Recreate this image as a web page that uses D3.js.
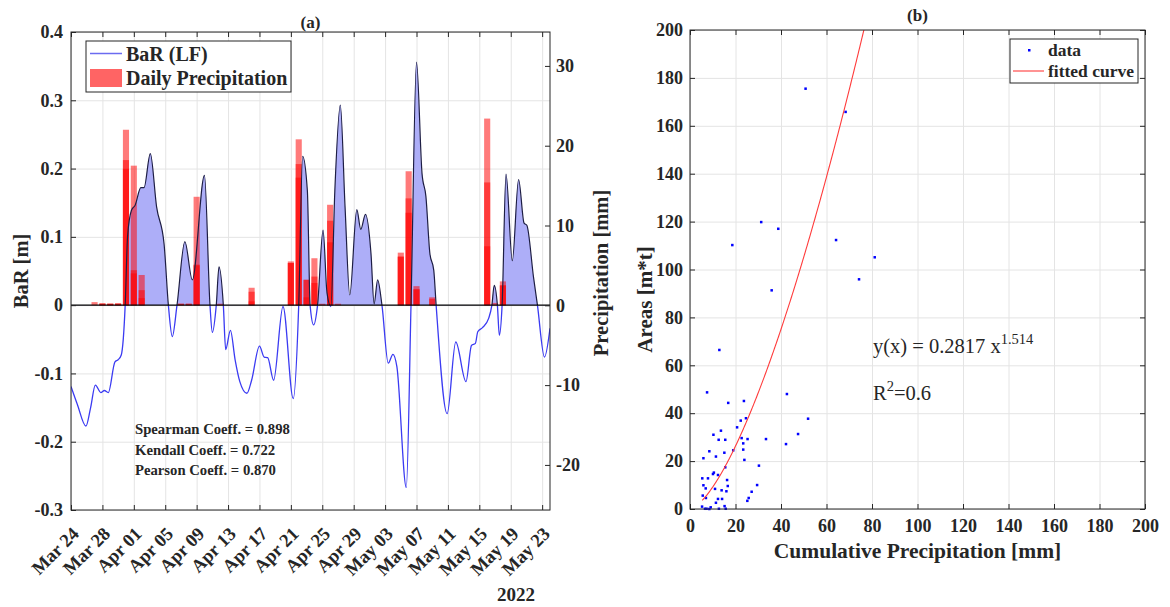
<!DOCTYPE html>
<meta charset="utf-8">
<script src="https://cdn.jsdelivr.net/npm/d3@7"></script>
<style>
body { margin: 0; background: #fff; }
text { font-family: "Liberation Serif", "Times New Roman", serif; fill: #262626; }
.tick text { font-family: "Liberation Serif", "Times New Roman", serif; font-weight: bold; font-size: 18px; fill: #262626; }
.frame path.domain { stroke: none; }
.frame line { stroke: #262626; }
.grid line { stroke: #e4e4e4; }
.grid path.domain { stroke: none; }
</style>
<body>
<script>

// ---- panel (a): BaR (LF), days after 2022-03-24 ----
var barT = [0, 0.8, 1.9, 2.5, 3.1, 3.8, 4.25, 4.75, 5.6, 6.0, 6.4, 6.9, 7.2, 7.7, 8.15, 8.9, 9.3, 10.1, 10.9, 11.85,
            12.4, 12.9, 13.5, 14.5, 15.45, 17.0, 17.7, 18.0, 18.5, 18.85, 19.4, 19.7, 20.3, 20.9, 21.5, 22.4, 23.0,
            24.0, 24.6, 25.05, 25.8, 27.0, 28.3, 29.0, 29.5, 30.1, 30.45, 30.9, 31.4, 32.1, 32.6, 33.1, 33.6, 34.3,
            34.9, 35.5, 36.4, 36.9, 37.5, 38.2, 38.6, 39.05, 39.6, 40.4, 41.0, 41.5, 42.7, 43.3, 44.0, 44.7, 45.2,
            45.7, 46.2, 46.5, 47.9, 49.0, 50.3, 51.0, 51.5, 51.8, 52.4, 53.2, 53.6, 53.9, 54.3, 54.55, 54.9, 55.4,
            56.2, 57.0, 57.7, 58.05, 58.9, 59.4, 60.3, 61.0]
var barV = [-0.119, -0.145, -0.177, -0.150, -0.117, -0.128, -0.125, -0.128, -0.083, -0.080, -0.073, 0, 0.10, 0.139,
            0.146, 0.172, 0.172, 0.222, 0.144, 0.09, 0, -0.046, 0, 0.093, 0.037, 0.19, 0, -0.04, 0, 0.056, 0,
            -0.065, -0.037, -0.08, -0.112, -0.129, -0.11, -0.06, -0.076, -0.077, -0.11, -0.002, -0.137, 0, 0.218,
            0.168, 0, -0.029, 0, 0.11, 0.018, -0.002, 0.168, 0.293, 0.144, 0.015, 0.14, 0.111, 0.133, 0.076, 0.002,
            0.037, 0, -0.085, -0.072, -0.09, -0.267, 0, 0.356, 0.193, 0.159, 0.076, 0.051, 0, -0.159, -0.054,
            -0.112, -0.059, -0.056, -0.039, -0.033, -0.019, 0, 0.029, 0, -0.044, 0, 0.192, 0.065, 0.184, 0.12,
            0.117, 0.041, 0, -0.076, -0.034]

// daily precipitation [mm], three overlapping gauges
var rainDay = [3, 4, 5, 6, 7, 8, 9, 14, 15, 16, 19, 23, 28, 29, 30, 31, 32, 33, 34, 42, 43, 44, 46, 53, 54, 55]
var rainA   = [0.4, 0.25, 0.2, 0.25, 22.0, 17.5, 3.8, 0.2, 0.2, 13.6, 0.2, 2.2, 5.5, 20.8, 3.2, 5.9, 0.2, 12.6, 0.2, 6.6, 16.8, 2.4, 1.0, 23.4, 0.3, 3.0]
var rainB   = [0, 0.2, 0.2, 0.2, 18.2, 4.4, 1.9, 0.2, 0.2, 5.1, 0, 1.7, 5.3, 17.7, 3.2, 3.6, 0, 10.6, 0, 6.1, 13.4, 2.0, 0.8, 15.4, 0, 2.5]
var rainC   = [0, 0.2, 0.2, 0.2, 17.1, 4.0, 0.9, 0, 0, 5.0, 0, 0.5, 5.3, 16.0, 1.0, 2.8, 0, 7.9, 0, 6.1, 11.6, 2.0, 0, 7.4, 0, 2.5]

var dateTicks = ["2022-03-24", "2022-03-28", "2022-04-01", "2022-04-05", "2022-04-09", "2022-04-13", "2022-04-17",
                 "2022-04-21", "2022-04-25", "2022-04-29", "2022-05-03", "2022-05-07", "2022-05-11", "2022-05-15",
                 "2022-05-19", "2022-05-23"]
var barTicks = [-0.3, -0.2, -0.1, 0, 0.1, 0.2, 0.3, 0.4]
var rainTicks = [-20, -10, 0, 10, 20, 30]
var coeffText = ["Spearman Coeff. = 0.898", "Kendall Coeff. = 0.722", "Pearson Coeff. = 0.870"]

// ---- panel (b): areas vs cumulative precipitation ----
var cumPrecip = [18.6, 31.3, 38.8, 50.8, 64.2, 68.4, 81.2, 74.3, 35.9, 12.9, 7.5, 42.6, 16.8, 23.7, 51.9, 24.6, 47.5,
                 42.2, 22.3, 20.7, 10.3, 13.6, 12.6, 15.5, 22.7, 23.4, 25.3, 33.4, 8.5, 15.1, 19.0, 23.4, 5.9, 11.4,
                 23.9, 30.3, 15.5, 10.5, 10.1, 12.3, 5.4, 7.9, 16.3, 29.5, 5.9, 6.9, 16.6, 11.0, 13.9, 16.0, 27.1,
                 5.6, 7.0, 25.8, 12.3, 14.1, 25.2, 11.4, 5.3, 6.6, 7.3, 9.1, 8.5, 12.7, 15.2, 15.7]
var areas     = [110.2, 119.8, 117.0, 175.5, 112.3, 165.8, 105.1, 95.9, 91.3, 66.4, 48.7, 48.0, 44.3, 45.1, 37.7,
                 37.9, 31.3, 27.1, 36.9, 34.1, 31.0, 32.7, 28.9, 28.9, 29.6, 27.4, 29.2, 29.2, 24.1, 23.5, 24.5,
                 24.8, 21.2, 21.9, 20.5, 18.1, 17.4, 15.2, 14.6, 14.2, 12.8, 12.8, 12.1, 10.0, 9.9, 8.6, 9.6, 8.4,
                 7.8, 7.4, 7.2, 5.6, 4.6, 4.6, 4.2, 4.2, 3.4, 2.6, 1.0, 0.1, 0.1, 0.7, 0, 0.1, 1.2, 0.1]
var fitA = 0.2817, fitB = 1.514
var fitRange = [5.4, 80]
var areaTicks = [0, 20, 40, 60, 80, 100, 120, 140, 160, 180, 200]


var svg = d3.select("body").append("svg")
            .attr("width", 1170)
            .attr("height", 607)
            .style("display", "block")

svg.append("rect").attr("width", 1170).attr("height", 607).attr("fill", "#fff")

var t0 = Date.UTC(2022, 2, 24)
function day(t) { return new Date(t0 + t * 864e5) }
var parseDay = d3.utcParse("%Y-%m-%d")
var tickDates = dateTicks.map(parseDay)

var ax = {left: 71, right: 550, top: 32, bottom: 510}
var xA = d3.scaleUtc().domain([day(0), day(61)]).range([ax.left, ax.right])
var yA = d3.scaleLinear().domain([-0.3, 0.4]).range([ax.bottom, ax.top])
var yP = d3.scaleLinear().domain([-25.65, 34.25]).range([ax.bottom, ax.top])

// grid
svg.append("g").attr("class", "grid")
   .attr("transform", "translate(0," + ax.bottom + ")")
   .call(d3.axisBottom(xA).tickValues(tickDates).tickSize(-(ax.bottom - ax.top)).tickFormat(""))
svg.append("g").attr("class", "grid")
   .attr("transform", "translate(" + ax.left + ",0)")
   .call(d3.axisLeft(yA).tickValues(barTicks).tickSize(-(ax.right - ax.left)).tickFormat(""))

var defs = svg.append("defs")
defs.append("clipPath").attr("id", "clipPos").append("rect")
    .attr("x", ax.left).attr("y", ax.top).attr("width", ax.right - ax.left).attr("height", yA(0) - ax.top)
defs.append("clipPath").attr("id", "clipNeg").append("rect")
    .attr("x", ax.left).attr("y", yA(0)).attr("width", ax.right - ax.left).attr("height", ax.bottom - yA(0))

var pts = barT.map(function(t, i) { return [day(t), barV[i]] })

var area = d3.area().x(function(d) { return xA(d[0]) }).y0(yA(0)).y1(function(d) { return yA(d[1]) }).curve(d3.curveMonotoneX)
var line = d3.line().x(function(d) { return xA(d[0]) }).y(function(d) { return yA(d[1]) }).curve(d3.curveMonotoneX)

svg.append("path").datum(pts).attr("d", area)
   .attr("fill", "#adaef8").attr("clip-path", "url(#clipPos)")

// precipitation bars
var bw = xA(day(0.78)) - xA(day(0))
var rainG = svg.append("g")
;[rainA, rainB, rainC].forEach(function(series) {
  rainG.selectAll(null).data(rainDay).enter().append("rect")
       .attr("x", function(d) { return xA(day(d)) - bw / 2 })
       .attr("width", bw)
       .attr("y", function(d, i) { return yP(series[i]) })
       .attr("height", function(d, i) { return yP(0) - yP(series[i]) })
       .attr("fill", "#ff0000")
       .attr("fill-opacity", 0.52)
})

svg.append("path").datum(pts).attr("d", line).attr("fill", "none")
   .attr("stroke", "#3b3bf2").attr("stroke-width", 1.3).attr("clip-path", "url(#clipNeg)")
svg.append("path").datum(pts).attr("d", line).attr("fill", "none")
   .attr("stroke", "#1e1e44").attr("stroke-width", 1.2).attr("clip-path", "url(#clipPos)")

svg.append("line").attr("x1", ax.left).attr("x2", ax.right).attr("y1", yA(0)).attr("y2", yA(0))
   .attr("stroke", "#000").attr("stroke-width", 1.2)

// axes (a)
svg.append("rect").attr("x", ax.left).attr("y", ax.top).attr("width", ax.right - ax.left).attr("height", ax.bottom - ax.top)
   .attr("fill", "none").attr("stroke", "#262626")

svg.append("g").attr("class", "frame")
   .attr("transform", "translate(" + ax.left + ",0)")
   .call(d3.axisLeft(yA).tickValues(barTicks).tickSizeInner(-5).tickSizeOuter(0).tickPadding(8)
           .tickFormat(function(d) { return d === 0 ? "0" : d.toFixed(1) }))
svg.append("g").attr("class", "frame")
   .attr("transform", "translate(" + ax.right + ",0)")
   .call(d3.axisRight(yP).tickValues(rainTicks).tickSizeInner(-5).tickSizeOuter(0).tickPadding(6)
           .tickFormat(function(d) { return String(d) }))
svg.append("g").attr("class", "frame")
   .attr("transform", "translate(0," + ax.top + ")")
   .call(d3.axisTop(xA).tickValues(tickDates).tickSizeInner(-5).tickSizeOuter(0).tickFormat(""))
svg.append("g").attr("class", "frame")
   .attr("transform", "translate(0," + ax.bottom + ")")
   .call(d3.axisBottom(xA).tickValues(tickDates).tickSizeInner(-5).tickSizeOuter(0).tickFormat(""))

var fmtDate = d3.utcFormat("%b %d")
svg.append("g").selectAll("text").data(tickDates).enter().append("text")
   .attr("transform", function(d) { return "translate(" + (xA(d) + 9) + "," + (ax.bottom + 25) + ") rotate(-45)" })
   .attr("text-anchor", "end")
   .style("font-weight", "bold").style("font-size", "18.5px")
   .text(function(d) { return fmtDate(d) })

svg.append("text").attr("x", 535).attr("y", 601).attr("text-anchor", "end")
   .style("font-weight", "bold").style("font-size", "19px").text("2022")

svg.append("text").attr("transform", "translate(28," + ((ax.top + ax.bottom) / 2) + ") rotate(-90)")
   .attr("text-anchor", "middle").style("font-weight", "bold").style("font-size", "20.5px").text("BaR [m]")
svg.append("text").attr("transform", "translate(608," + ((ax.top + ax.bottom) / 2 + 2) + ") rotate(-90)")
   .attr("text-anchor", "middle").style("font-weight", "bold").style("font-size", "20.5px").text("Precipitation [mm]")
svg.append("text").attr("x", (ax.left + ax.right) / 2).attr("y", 28).attr("text-anchor", "middle")
   .style("font-weight", "bold").style("font-size", "17px").text("(a)")

svg.append("g").selectAll("text").data(coeffText).enter().append("text")
   .attr("x", 135).attr("y", function(d, i) { return 434 + i * 20.5 })
   .style("font-weight", "bold").style("font-size", "14.7px").text(function(d) { return d })

// legend (a)
var lgA = svg.append("g")
lgA.append("rect").attr("x", 86).attr("y", 41).attr("width", 205).attr("height", 51)
   .attr("fill", "#fff").attr("stroke", "#262626")
lgA.append("line").attr("x1", 90).attr("x2", 122).attr("y1", 53.5).attr("y2", 53.5)
   .attr("stroke", "#6b6bf0").attr("stroke-width", 1.5)
lgA.append("rect").attr("x", 90).attr("y", 69).attr("width", 32).attr("height", 18).attr("fill", "#ff6464")
lgA.append("text").attr("x", 126).attr("y", 61).style("font-weight", "bold").style("font-size", "20px").text("BaR (LF)")
lgA.append("text").attr("x", 126).attr("y", 85).style("font-weight", "bold").style("font-size", "20px").text("Daily Precipitation")


// ---- panel (b) ----
var bx = {left: 690, right: 1145, top: 30, bottom: 509}
var xS = d3.scaleLinear().domain([0, 200]).range([bx.left, bx.right])
var yS = d3.scaleLinear().domain([0, 200]).range([bx.bottom, bx.top])

svg.append("g").attr("class", "grid")
   .attr("transform", "translate(0," + bx.bottom + ")")
   .call(d3.axisBottom(xS).tickValues(areaTicks).tickSize(-(bx.bottom - bx.top)).tickFormat(""))
svg.append("g").attr("class", "grid")
   .attr("transform", "translate(" + bx.left + ",0)")
   .call(d3.axisLeft(yS).tickValues(areaTicks).tickSize(-(bx.right - bx.left)).tickFormat(""))

defs.append("clipPath").attr("id", "clipB").append("rect")
    .attr("x", bx.left).attr("y", bx.top).attr("width", bx.right - bx.left).attr("height", bx.bottom - bx.top)

svg.append("g").selectAll("rect").data(cumPrecip).enter().append("rect")
   .attr("x", function(d) { return xS(d) - 1.25 })
   .attr("y", function(d, i) { return yS(areas[i]) - 1.25 })
   .attr("width", 2.5).attr("height", 2.5).attr("fill", "#0000ff")

var fitX = d3.range(fitRange[0], fitRange[1], 0.25)
svg.append("path").datum(fitX)
   .attr("d", d3.line().x(function(d) { return xS(d) }).y(function(d) { return yS(fitA * Math.pow(d, fitB)) }))
   .attr("fill", "none").attr("stroke", "#ff3b3b").attr("stroke-width", 1.1).attr("clip-path", "url(#clipB)")

svg.append("rect").attr("x", bx.left).attr("y", bx.top).attr("width", bx.right - bx.left).attr("height", bx.bottom - bx.top)
   .attr("fill", "none").attr("stroke", "#262626")

svg.append("g").attr("class", "frame")
   .attr("transform", "translate(0," + bx.bottom + ")")
   .call(d3.axisBottom(xS).tickValues(areaTicks).tickSizeInner(-5).tickSizeOuter(0).tickPadding(10))
svg.append("g").attr("class", "frame")
   .attr("transform", "translate(" + bx.left + ",0)")
   .call(d3.axisLeft(yS).tickValues(areaTicks).tickSizeInner(-5).tickSizeOuter(0).tickPadding(7))
svg.append("g").attr("class", "frame")
   .attr("transform", "translate(0," + bx.top + ")")
   .call(d3.axisTop(xS).tickValues(areaTicks).tickSizeInner(-5).tickSizeOuter(0).tickFormat(""))
svg.append("g").attr("class", "frame")
   .attr("transform", "translate(" + bx.right + ",0)")
   .call(d3.axisRight(yS).tickValues(areaTicks).tickSizeInner(-5).tickSizeOuter(0).tickFormat(""))

svg.append("text").attr("x", (bx.left + bx.right) / 2).attr("y", 558).attr("text-anchor", "middle")
   .style("font-weight", "bold").style("font-size", "21.5px").text("Cumulative Precipitation [mm]")
svg.append("text").attr("transform", "translate(652," + ((bx.top + bx.bottom) / 2 + 30) + ") rotate(-90)")
   .attr("text-anchor", "middle").style("font-weight", "bold").style("font-size", "21px").text("Areas [m*t]")
svg.append("text").attr("x", (bx.left + bx.right) / 2).attr("y", 21).attr("text-anchor", "middle")
   .style("font-weight", "bold").style("font-size", "17px").text("(b)")

var eq = svg.append("text").attr("x", 873).attr("y", 353).style("font-size", "20.5px")
eq.append("tspan").text("y(x) = " + fitA + " x")
eq.append("tspan").attr("dy", -9).style("font-size", "14.5px").text(fitB)
var r2 = svg.append("text").attr("x", 873).attr("y", 400).style("font-size", "20.5px")
r2.append("tspan").text("R")
r2.append("tspan").attr("dy", -9).style("font-size", "14.5px").text("2")
r2.append("tspan").attr("dy", 9).text("=0.6")

// legend (b)
var lgB = svg.append("g")
lgB.append("rect").attr("x", 1010).attr("y", 39).attr("width", 128).attr("height", 44)
   .attr("fill", "#fff").attr("stroke", "#262626")
lgB.append("rect").attr("x", 1028).attr("y", 49).attr("width", 2.5).attr("height", 2.5).attr("fill", "#0000ff")
lgB.append("line").attr("x1", 1013).attr("x2", 1044).attr("y1", 71).attr("y2", 71)
   .attr("stroke", "#ff3b3b").attr("stroke-width", 1.1)
lgB.append("text").attr("x", 1048).attr("y", 56).style("font-weight", "bold").style("font-size", "17.5px").text("data")
lgB.append("text").attr("x", 1048).attr("y", 77).style("font-weight", "bold").style("font-size", "17.5px").text("fitted curve")

</script>
</body>
